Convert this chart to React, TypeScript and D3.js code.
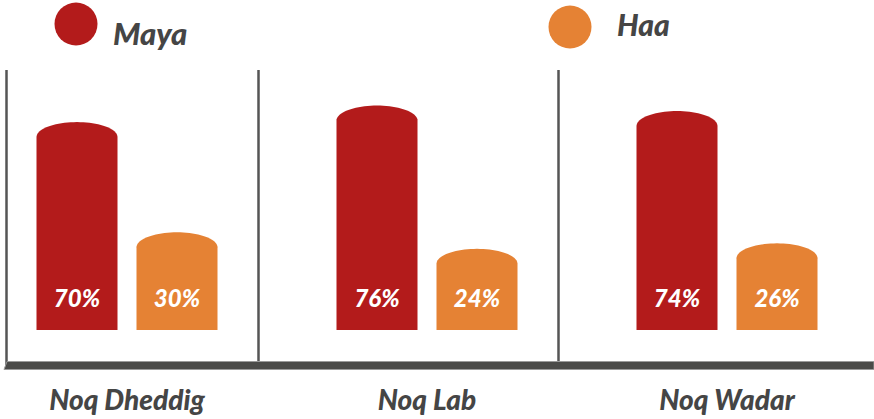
import React from "react";
import * as d3 from "d3";

const categories = ["Noq Dheddig", "Noq Lab", "Noq Wadar"];
const seriesNames = ["Maya", "Haa"];
const mayaValues = [70, 76, 74];
const haaValues = [30, 24, 26];
const seriesColors = ["#B31B1B", "#E58234"];

const W = 874;
const H = 419;
const baseY = 330;
const FONT = "Lato, 'Open Sans', 'DejaVu Sans', sans-serif";

export default function App() {
  const x0 = d3
    .scaleBand<string>()
    .domain(categories)
    .range([-23, 877])
    .paddingInner(1 - 181 / 300)
    .paddingOuter((1 - 181 / 300) / 2);
  const x1 = d3
    .scaleBand<string>()
    .domain(seriesNames)
    .range([0, x0.bandwidth()])
    .paddingInner(0.19);
  const y = d3.scaleLinear().domain([0, 100]).range([baseY, baseY - 275.6]);
  const color = d3.scaleOrdinal<string, string>().domain(seriesNames).range(seriesColors);
  const valuesBySeries: Record<string, number[]> = { Maya: mayaValues, Haa: haaValues };

  const capRy = 15;
  const barPath = (xa: number, w: number, v: number) => {
    const p = d3.path();
    const top = y(v);
    p.moveTo(xa, baseY);
    p.lineTo(xa, top);
    const rx = w / 2;
    const cx = xa + rx;
    const steps = 40;
    for (let i = 1; i <= steps; i++) {
      const t = Math.PI - (Math.PI * i) / steps;
      p.lineTo(cx + rx * Math.cos(t), top - capRy * Math.sin(t));
    }
    p.lineTo(xa + w, baseY);
    p.closePath();
    return p.toString();
  };

  const sepOffset = 78;
  const lineTop = 70;
  const axisY = 365.5;

  const legendItems = [
    { name: "Maya", cx: 76, cy: 24, tx: 113, ty: 45, fs: 31 },
    { name: "Haa", cx: 570, cy: 27, tx: 617, ty: 36, fs: 30 },
  ];

  return (
    <svg
      width={W}
      height={H}
      style={{ position: "absolute", left: 0, top: 0, background: "#fff" }}
    >
      {legendItems.map((l) => (
        <g key={l.name}>
          <circle cx={l.cx} cy={l.cy} r={21.5} fill={color(l.name)} />
          <text
            x={l.tx}
            y={l.ty}
            fontFamily={FONT}
            fontWeight={900}
            fontStyle="italic"
            fontSize={l.fs}
            fill="#454545"
          >
            {l.name}
          </text>
        </g>
      ))}

      <line x1={6.5} x2={6.5} y1={lineTop} y2={axisY} stroke="#555" strokeWidth={2.5} />
      {categories.slice(1).map((c) => (
        <line
          key={c}
          x1={(x0(c) as number) - sepOffset}
          x2={(x0(c) as number) - sepOffset}
          y1={lineTop}
          y2={axisY}
          stroke="#555"
          strokeWidth={2.5}
        />
      ))}

      {categories.map((c, i) => (
        <g key={c} transform={`translate(${x0(c)},0)`}>
          {seriesNames.map((s) => {
            const v = valuesBySeries[s][i];
            const xa = x1(s) as number;
            const w = x1.bandwidth();
            return (
              <g key={s}>
                <path d={barPath(xa, w, v)} fill={color(s)} />
                <text
                  x={xa + w / 2}
                  y={307}
                  textAnchor="middle"
                  fontFamily={FONT}
                  fontWeight={900}
                  fontStyle="italic"
                  fontSize={24}
                  fill="#fff"
                >
                  {v}%
                </text>
              </g>
            );
          })}
          <text
            x={x0.bandwidth() / 2}
            y={410}
            textAnchor="middle"
            fontFamily={FONT}
            fontWeight={900}
            fontStyle="italic"
            fontSize={28}
            fill="#454545"
          >
            {c}
          </text>
        </g>
      ))}

      <path
        d={`M4,${axisY + 4} L7,${axisY - 4} L874,${axisY - 4} L874,${axisY + 4} Z`}
        fill="#4a4a48"
        stroke="#9a9a9a"
        strokeWidth={1}
      />
    </svg>
  );
}
